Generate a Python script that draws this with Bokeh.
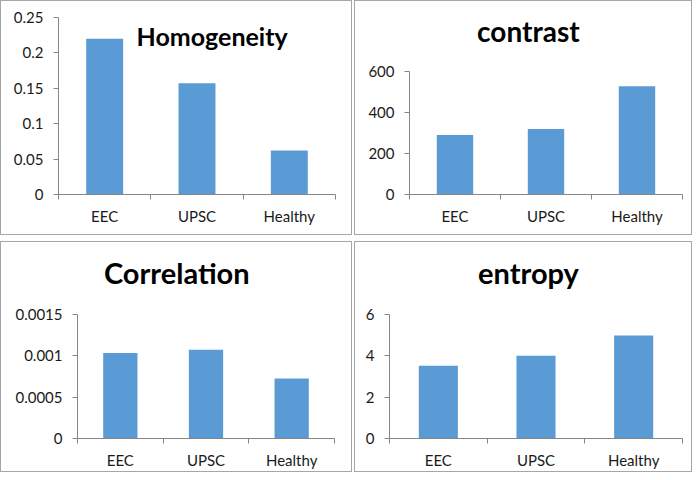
from bokeh.plotting import figure
from bokeh.models import Range1d, FixedTicker, Label
from bokeh.layouts import row, column
from bokeh.embed import file_html
from bokeh.resources import INLINE

# ---- data ----
categories = ["EEC", "UPSC", "Healthy"]

homogeneity = [0.22, 0.157, 0.062]
contrast = [289, 318, 526]
correlation = [0.00103, 0.00107, 0.000724]
entropy = [3.51, 3.99, 4.97]

homog_ticks = [0, 0.05, 0.1, 0.15, 0.2, 0.25]
homog_labels = ["0", "0.05", "0.1", "0.15", "0.2", "0.25"]
contrast_ticks = [0, 200, 400, 600]
contrast_labels = ["0", "200", "400", "600"]
corr_ticks = [0, 0.0005, 0.001, 0.0015]
corr_labels = ["0", "0.0005", "0.001", "0.0015"]
entropy_ticks = [0, 2, 4, 6]
entropy_labels = ["0", "2", "4", "6"]

# ---- style ----
BAR = "#5B9BD5"
AXIS = "#868686"
FONT = "Lato"
BORDER = "1px solid #a6a6a6"


def panel(values, yticks, ylabels, w, h, bl, br, bt, bb, axis_frac,
          title, tx, ty, tsize):
    """axis_frac: fraction of the frame height occupied by the value axis
    (the title sits inside the frame, above the axis)."""
    n = len(categories)
    xs = [i + 0.5 for i in range(n)]
    y_end = yticks[-1] / axis_frac
    p = figure(width=w, height=h, output_backend="svg", toolbar_location=None,
               x_range=Range1d(0, n), y_range=Range1d(yticks[0], y_end),
               min_border_left=bl, min_border_right=br,
               min_border_top=bt, min_border_bottom=bb)
    p.styles = {"border": BORDER}
    p.vbar(x=xs, top=values, width=0.4, fill_color=BAR, line_color=None)
    p.xgrid.visible = False
    p.ygrid.visible = False
    p.outline_line_color = None
    p.background_fill_color = "white"
    p.border_fill_color = "white"

    xa = p.xaxis[0]
    xa.ticker = FixedTicker(ticks=xs, minor_ticks=list(range(n + 1)))
    xa.major_label_overrides = {x: c for x, c in zip(xs, categories)}
    xa.major_tick_out = 0
    xa.major_tick_in = 0
    xa.minor_tick_out = 5
    xa.minor_tick_in = 0
    xa.minor_tick_line_color = AXIS
    xa.axis_line_color = AXIS
    xa.major_label_text_font = FONT
    xa.major_label_text_font_size = "15px"
    xa.major_label_text_color = "#1a1a1a"
    xa.major_label_standoff = 7

    ya = p.yaxis[0]
    ya.ticker = FixedTicker(ticks=yticks, minor_ticks=[])
    ya.bounds = (yticks[0], yticks[-1])
    ya.major_label_overrides = {t: l for t, l in zip(yticks, ylabels)}
    ya.major_tick_out = 5
    ya.major_tick_in = 0
    ya.major_tick_line_color = AXIS
    ya.axis_line_color = AXIS
    ya.major_label_text_font = FONT
    ya.major_label_text_font_size = "15px"
    ya.major_label_text_color = "#1a1a1a"
    ya.major_label_standoff = 10

    # title placed inside the frame (x in category units, y as fraction of frame)
    p.add_layout(Label(x=tx, y=ty * y_end, text=title, text_font=FONT,
                       text_font_size=tsize, text_font_style="bold",
                       text_color="black", text_align="center",
                       text_baseline="alphabetic"))
    return p


# top row: frame from y=17 to y=192; bottom row: frame from y=258 to y=436
p1 = panel(homogeneity, homog_ticks, homog_labels, 352, 235, 57, 18, 16, 42,
           axis_frac=175 / 175, title="Homogeneity", tx=1.664, ty=157 / 175,
           tsize="25px")
p2 = panel(contrast, contrast_ticks, contrast_labels, 338, 235, 54, 11, 16, 42,
           axis_frac=122 / 175, title="contrast", tx=1.306, ty=162 / 175,
           tsize="28px")
p3 = panel(correlation, corr_ticks, corr_labels, 352, 231, 76, 19, 16, 35,
           axis_frac=123 / 178, title="Correlation", tx=1.159, ty=164 / 178,
           tsize="29px")
p4 = panel(entropy, entropy_ticks, entropy_labels, 338, 231, 34, 11, 16, 35,
           axis_frac=123 / 178, title="entropy", tx=1.423, ty=164 / 178,
           tsize="29px")

layout = column(row(p1, p2, spacing=2), row(p3, p4, spacing=2), spacing=6)

open("out.html", "w").write(file_html(layout, INLINE))
